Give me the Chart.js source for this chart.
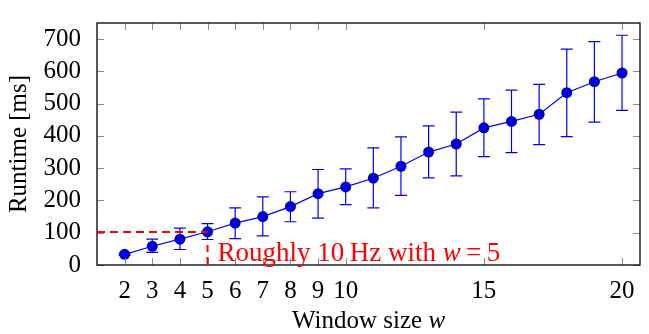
<!DOCTYPE html>
<html>
<head>
<meta charset="utf-8">
<script src="https://cdn.jsdelivr.net/npm/chart.js"></script>
<style>
  html, body { margin: 0; padding: 0; background: #fff; }
  #wrap { width: 649px; height: 334px; }
</style>
</head>
<body>
<div id="wrap"><canvas id="chart" width="649" height="334"></canvas></div>
<script>
// Window sizes and measured runtimes (ms)
const windowSizes = [2, 3, 4, 5, 6, 7, 8, 9, 10, 11, 12, 13, 14, 15, 16, 17, 18, 19, 20];
const runtimeMean = [33, 58, 80, 103, 130, 150, 181, 221, 242, 269, 306, 350, 375, 425, 445, 467, 534, 568, 595];
const runtimeLow  = [30, 39, 48, 79, 82, 90, 134, 145, 187, 177, 216, 270, 276, 336, 348, 373, 398, 443, 479];
const runtimeHigh = [36, 80, 114, 128, 177, 211, 227, 296, 298, 363, 397, 431, 474, 515, 542, 560, 669, 692, 712];

const xTicks = [2, 3, 4, 5, 6, 7, 8, 9, 10, 15, 20];
const yTicks = [0, 100, 200, 300, 400, 500, 600, 700];

const refWindow = 5;
const refRuntime = 102;

const serif = '"Liberation Serif", "DejaVu Serif", serif';

// draws a run of [text, style] pieces starting at x
function drawRich(ctx, parts, x, y, size) {
    parts.forEach(([s, style]) => {
        ctx.font = style + ' ' + size + 'px ' + serif;
        ctx.fillText(s, x, y);
        x += ctx.measureText(s).width;
    });
}
function richWidth(ctx, parts, size) {
    let w = 0;
    parts.forEach(([s, style]) => {
        ctx.font = style + ' ' + size + 'px ' + serif;
        w += ctx.measureText(s).width;
    });
    return w;
}

// error bars, frame, inward ticks and the red annotation
const decorations = {
    id: 'decorations',
    afterDatasetsDraw(chart) {
        const ctx = chart.ctx;
        const xs = chart.scales.x, ys = chart.scales.y;

        ctx.save();
        ctx.strokeStyle = '#0000ff';
        ctx.lineWidth = 1.2;
        windowSizes.forEach((w, i) => {
            const px = xs.getPixelForValue(w);
            const top = ys.getPixelForValue(runtimeHigh[i]);
            const bot = ys.getPixelForValue(runtimeLow[i]);
            ctx.beginPath();
            ctx.moveTo(px, top); ctx.lineTo(px, bot);
            ctx.moveTo(px - 6, top); ctx.lineTo(px + 6, top);
            ctx.moveTo(px - 6, bot); ctx.lineTo(px + 6, bot);
            ctx.stroke();
        });
        ctx.restore();
    },
    afterDraw(chart) {
        const ctx = chart.ctx;
        const xs = chart.scales.x, ys = chart.scales.y;
        const a = chart.chartArea;

        // inward tick marks on all four sides
        ctx.save();
        ctx.strokeStyle = '#8c8c8c';
        ctx.lineWidth = 1;
        ctx.beginPath();
        xTicks.forEach(t => {
            const px = Math.round(xs.getPixelForValue(t)) + 0.5;
            ctx.moveTo(px, a.bottom); ctx.lineTo(px, a.bottom - 7);
            ctx.moveTo(px, a.top); ctx.lineTo(px, a.top + 7);
        });
        yTicks.forEach(t => {
            const py = Math.round(ys.getPixelForValue(t)) + 0.5;
            ctx.moveTo(a.left, py); ctx.lineTo(a.left + 7, py);
            ctx.moveTo(a.right, py); ctx.lineTo(a.right - 7, py);
        });
        ctx.stroke();

        // frame
        ctx.strokeStyle = '#000';
        ctx.lineWidth = 1.3;
        ctx.strokeRect(a.left, a.top, a.right - a.left, a.bottom - a.top);

        // red dashed reference lines
        const rx = xs.getPixelForValue(refWindow);
        const ry = ys.getPixelForValue(refRuntime);
        ctx.strokeStyle = '#ff0000';
        ctx.lineWidth = 2;
        ctx.setLineDash([8, 5]);
        ctx.beginPath();
        ctx.moveTo(a.left, ry); ctx.lineTo(rx, ry);
        ctx.stroke();
        ctx.beginPath();
        ctx.moveTo(rx, a.bottom); ctx.lineTo(rx, ys.getPixelForValue(62));
        ctx.stroke();
        ctx.setLineDash([]);

        // annotation text
        ctx.fillStyle = '#ff0000';
        ctx.textBaseline = 'alphabetic';
        drawRich(ctx, [
            ['Roughly 10\u2009Hz with ', 'normal'],
            ['w', 'italic'],
            ['\u2009=\u20095', 'normal']
        ], rx + 10, a.bottom - 4, 27);

        // x axis title with italic w
        const title = [['Window size ', 'normal'], ['w', 'italic']];
        const tw = richWidth(ctx, title, 25);
        ctx.fillStyle = '#000';
        drawRich(ctx, title, (a.left + a.right) / 2 - tw / 2, 328, 25);
        ctx.restore();
    }
};

new Chart(document.getElementById('chart'), {
    type: 'line',
    data: {
        datasets: [{
            data: windowSizes.map((w, i) => ({x: w, y: runtimeMean[i]})),
            borderColor: '#0000ff',
            borderWidth: 1.2,
            backgroundColor: '#0000cc',
            pointBackgroundColor: '#0000cc',
            pointBorderColor: '#0000cc',
            pointRadius: 5.5,
            pointBorderWidth: 0,
            tension: 0
        }]
    },
    options: {
        responsive: false,
        animation: false,
        devicePixelRatio: 1,
        layout: {padding: {top: 6, right: 9, left: 0, bottom: 0}},
        plugins: {legend: {display: false}, tooltip: {enabled: false}},
        scales: {
            x: {
                type: 'linear',
                min: 1,
                max: 20.65,
                afterBuildTicks: s => { s.ticks = xTicks.map(v => ({value: v})); },
                afterFit: s => { s.height = 69; },
                grid: {display: false},
                border: {display: false},
                ticks: {
                    color: '#000',
                    font: {family: serif, size: 25},
                    padding: 3,
                    maxRotation: 0,
                    autoSkip: false
                }
            },
            y: {
                min: 0,
                max: 750,
                afterBuildTicks: s => { s.ticks = yTicks.map(v => ({value: v})); },
                afterFit: s => { s.width = 97; },
                grid: {display: false},
                border: {display: false},
                ticks: {
                    color: '#000',
                    font: {family: serif, size: 25},
                    padding: 8
                },
                title: {
                    display: true,
                    text: 'Runtime [ms]',
                    color: '#000',
                    font: {family: serif, size: 25},
                    padding: {top: 4, bottom: 0}
                }
            }
        }
    },
    plugins: [decorations]
});
</script>
</body>
</html>
